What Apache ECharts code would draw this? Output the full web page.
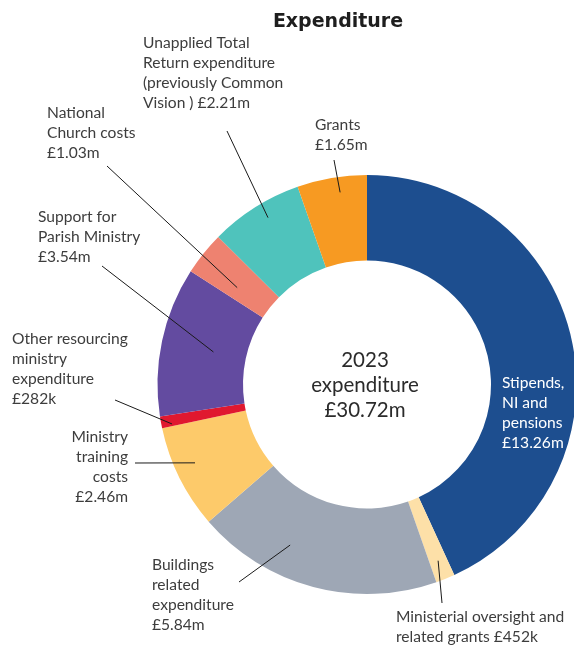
<!DOCTYPE html>
<html><head><meta charset="utf-8">
<script src="https://cdn.jsdelivr.net/npm/echarts@6/dist/echarts.min.js"></script>
<style>html,body{margin:0;padding:0;background:#fff}#c{width:574px;height:645px}</style>
</head><body><div id="c"></div>
<script>
const categories = ['Stipends, NI and pensions','Ministerial oversight and related grants','Buildings related expenditure','Ministry training costs','Other resourcing ministry expenditure','Support for Parish Ministry','National Church costs','Unapplied Total Return expenditure (previously Common Vision )','Grants'];
const values = [13.26, 0.452, 5.84, 2.46, 0.282, 3.54, 1.03, 2.21, 1.65];
const labelTexts = [
  'Stipends,\nNI and\npensions\n£13.26m',
  'Ministerial oversight and\nrelated grants £452k',
  'Buildings\nrelated\nexpenditure\n£5.84m',
  'Ministry\ntraining\ncosts\n£2.46m',
  'Other resourcing\nministry\nexpenditure\n£282k',
  'Support for\nParish Ministry\n£3.54m',
  'National\nChurch costs\n£1.03m',
  'Unapplied Total\nReturn expenditure\n(previously Common\nVision ) £2.21m',
  'Grants\n£1.65m'
];
const colors = ['#1d4e8f','#fde0a8','#9ea7b5','#fdca6a','#e0182f','#634ba0','#ee8270','#4fc3bc','#f79a22'];
const centerText = '2023\nexpenditure\n£30.72m';
const titleText = 'Expenditure';

const CX = 367, CY = 384.5, R0 = 124, R1 = 209.5;
const labelPlace = [
  {x:502, y:373, align:'left'},
  {x:396, y:607, align:'left', from:[442,603], r:190, da:0},
  {x:152, y:555, align:'left', from:[239,582], r:178, da:10.7},
  {x:128, y:427, align:'right', from:[135,463], r:189, da:2},
  {x:12,  y:329, align:'left', from:[115,400], r:199, da:-1},
  {x:38,  y:207, align:'left', from:[102,266], r:157, da:0},
  {x:47,  y:103, align:'left', from:[107,166], r:162, da:-2},
  {x:143, y:33,  align:'left', from:[227,131], r:194, da:1.6},
  {x:315, y:115, align:'left', from:[334,160], r:194, da:1.7}
];

const totalSum = values.reduce((a,b)=>a+b,0);
const midAngles = [];
let cum = 0;
values.forEach(v => { midAngles.push((cum + v/2) / totalSum * 360); cum += v; });

const leaderLines = [];
labelPlace.forEach((L, i) => {
  if (!L.from) return;
  const a = (midAngles[i] + L.da) * Math.PI / 180;
  const ex = CX + L.r * Math.sin(a), ey = CY - L.r * Math.cos(a);
  leaderLines.push({type:'polyline', z:100, silent:true,
    shape:{points:[L.from, [ex, ey]]},
    style:{stroke:'#1a1a1a', lineWidth:1, fill:null}});
});

const chart = echarts.init(document.getElementById('c'));
chart.setOption({
  animation: false,
  graphic: [
    {type:'text', x:338, y:22, style:{text:titleText, align:'center', verticalAlign:'middle', fontSize:19, fontWeight:'bold', fontFamily:'DejaVu Sans', fill:'#1e1e1e'}},
    {type:'text', x:365, y:385, style:{text:centerText, align:'center', verticalAlign:'middle', fontSize:20.5, lineHeight:25, fontFamily:'Lato', fill:'#2b2b2b'}}
  ].concat(leaderLines),
  series: [{
    type: 'pie',
    center: [CX, CY],
    radius: [R0, R1],
    startAngle: 90,
    clockwise: true,
    avoidLabelOverlap: false,
    emphasis: {disabled: true},
    itemStyle: {borderWidth: 0},
    label: {
      show: true,
      position: 'outside',
      formatter: p => labelTexts[p.dataIndex],
      fontSize: 15.6,
      lineHeight: 20,
      fontFamily: 'Lato',
      color: '#3d3d3d'
    },
    labelLine: {show: false},
    labelLayout: function (params) {
      const L = labelPlace[params.dataIndex];
      return {x: L.x, y: L.y, align: L.align, verticalAlign: 'top'};
    },
    data: categories.map((name, i) => ({
      name: name,
      value: values[i],
      itemStyle: {color: colors[i]},
      label: i === 0 ? {color: '#ffffff'} : undefined
    }))
  }]
});
</script></body></html>
